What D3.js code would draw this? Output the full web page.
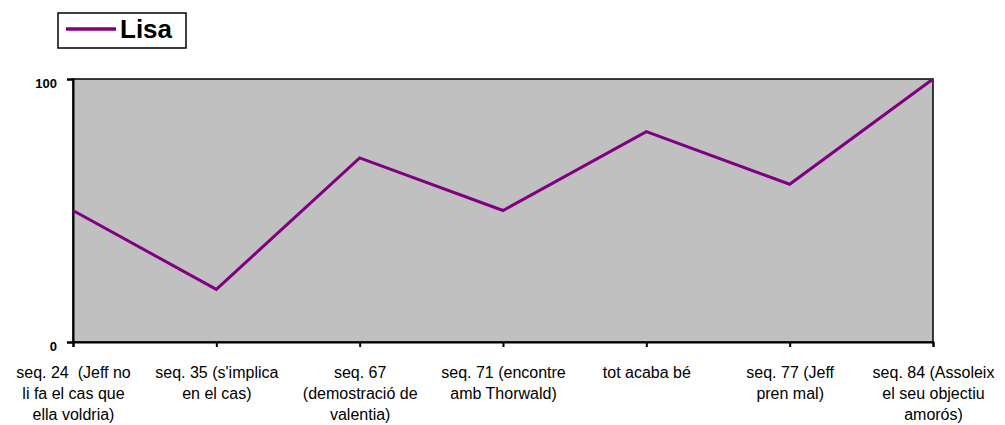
<!DOCTYPE html>
<html><head><meta charset="utf-8">
<script src="https://cdn.jsdelivr.net/npm/d3@7"></script>
<style>body{margin:0;background:#fff}svg{display:block;font-family:"Liberation Sans",Arial,sans-serif}</style>
</head><body><svg id="c" width="1005" height="425"></svg>
<script>
const categories = [
  ["seq. 24  (Jeff no","li fa el cas que","ella voldria)"],
  ["seq. 35 (s'implica","en el cas)"],
  ["seq. 67","(demostració de","valentia)"],
  ["seq. 71 (encontre","amb Thorwald)"],
  ["tot acaba bé"],
  ["seq. 77 (Jeff","pren mal)"],
  ["seq. 84 (Assoleix","el seu objectiu","amorós)"]
];
const seriesName = "Lisa";
const lisaValues = [50, 20, 70, 50, 80, 60, 100];
const yTicks = [0, 100];

const svg = d3.select("#c");
const L = 73, R = 933, T = 79, B = 342;
const x = d3.scalePoint().domain(d3.range(categories.length)).range([L, R]);
const y = d3.scaleLinear().domain([0, 100]).range([B, T]);

svg.append("rect").attr("x", L).attr("y", T).attr("width", R - L).attr("height", B - T)
  .attr("fill", "#c0c0c0").attr("stroke", "#000").attr("stroke-width", 1.5);

// y axis
const ya = svg.append("g").attr("transform", `translate(${L},0)`)
  .call(d3.axisLeft(y).tickValues(yTicks).tickSize(6).tickPadding(10));
ya.select(".domain").attr("stroke", "#000").attr("stroke-width", 2);
ya.selectAll(".tick line").attr("stroke", "#000").attr("stroke-width", 2);
ya.selectAll(".tick text").style("font-size", "13px").style("font-weight", "bold")
  .attr("fill", "#000").attr("dy", "0.72em").attr("y", -1)
  .style("font-family", "Liberation Sans, Arial, sans-serif");

// x axis
const xa = svg.append("g").attr("transform", `translate(0,${B})`)
  .call(d3.axisBottom(x).tickSize(5).tickFormat(""));
xa.select(".domain").attr("stroke", "#000").attr("stroke-width", 2);
xa.selectAll(".tick line").attr("stroke", "#000").attr("stroke-width", 2);
xa.selectAll(".tick").each(function(d) {
  const t = d3.select(this).append("text").attr("fill", "#000").style("font-size", "16px")
    .style("white-space", "pre").attr("xml:space", "preserve")
    .attr("text-anchor", "middle").style("font-family", "Liberation Sans, Arial, sans-serif");
  categories[d].forEach((ln, i) => t.append("tspan").attr("x", 0).attr("y", 36 + i * 21).text(ln));
});

// line
const line = d3.line().x((d, i) => x(i)).y(d => y(d));
svg.append("path").datum(lisaValues).attr("d", line).attr("fill", "none")
  .attr("stroke", "#800080").attr("stroke-width", 3).attr("stroke-linejoin", "miter");

// legend
const lg = svg.append("g");
lg.append("rect").attr("x", 58).attr("y", 13).attr("width", 128).attr("height", 35)
  .attr("fill", "#fff").attr("stroke", "#000").attr("stroke-width", 1.5);
lg.append("line").attr("x1", 66).attr("x2", 116).attr("y1", 29).attr("y2", 29)
  .attr("stroke", "#800080").attr("stroke-width", 3.5);
lg.append("text").attr("x", 120).attr("y", 38).style("font-size", "26px").style("font-weight", "bold")
  .attr("fill", "#000").text(seriesName);
</script></body></html>
